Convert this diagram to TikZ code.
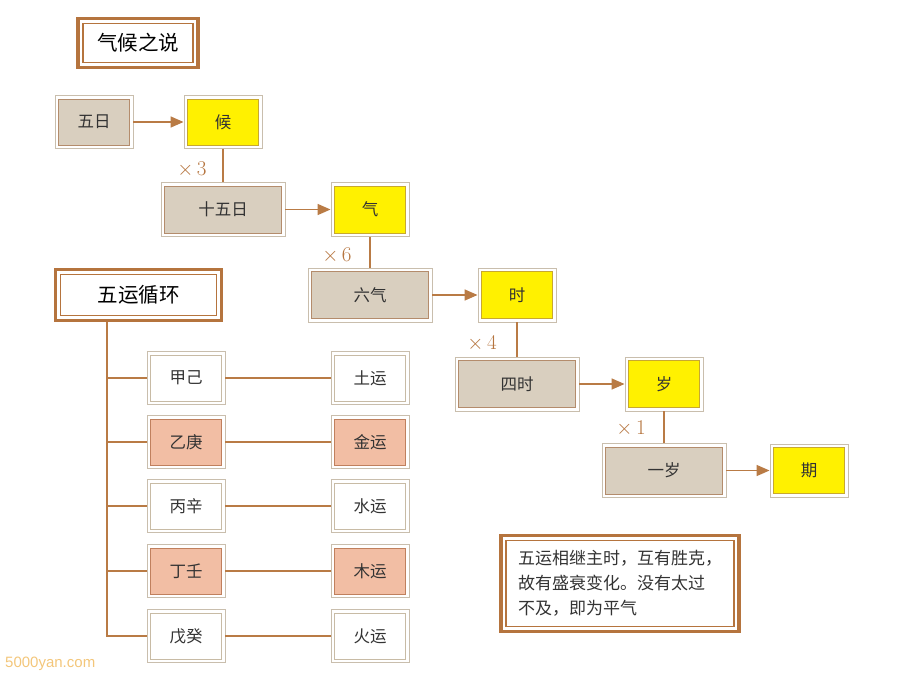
\documentclass[tikz,border=0pt]{standalone}
\usepackage{fontspec}
\newfontfamily\cjk{Noto Sans CJK SC}
\newfontfamily\wmfont{Liberation Sans}
\usetikzlibrary{arrows.meta}
\definecolor{tanfill}{HTML}{D9CFBF}
\definecolor{yelfill}{HTML}{FFF100}
\definecolor{salfill}{HTML}{F2BEA4}
\definecolor{brown}{HTML}{B5743E}
\definecolor{linebrown}{HTML}{B97B45}
\definecolor{outerline}{HTML}{C9BEAD}
\definecolor{intan}{HTML}{B48C6C}
\definecolor{inyel}{HTML}{C8A830}
\definecolor{inwhite}{HTML}{C8BBA5}
\definecolor{insal}{HTML}{C0805E}
\definecolor{txt}{HTML}{333333}
\definecolor{wmcol}{HTML}{F3C67A}
\tikzset{
  boxbase/.style 2 args={draw=outerline, line width=0.9pt, fill=white, inner sep=0pt,
    text=txt, font=\cjk\fontsize{16.5}{16.5}\selectfont,
    path picture={\draw[#1, fill=#2, line width=0.9pt]
      ([shift={(3.5pt,-3.5pt)}]path picture bounding box.north west) rectangle
      ([shift={(-3.5pt,3.5pt)}]path picture bounding box.south east);}},
  graybox/.style={boxbase={intan}{tanfill}},
  yelbox/.style={boxbase={inyel}{yelfill}},
  whitebox/.style={boxbase={inwhite}{white}},
  salbox/.style={boxbase={insal}{salfill}},
  narrow/.style={minimum width=78pt, minimum height=53pt},
  wide/.style={minimum width=124pt, minimum height=54pt},
  titlebox/.style={draw=brown, line width=3.5pt, fill=white, inner sep=0pt,
    text=black, font=\cjk\fontsize{20.5}{20.5}\selectfont,
    path picture={\draw[brown, line width=1.3pt]
      ([shift={(5pt,-5pt)}]path picture bounding box.north west) rectangle
      ([shift={(-5pt,5pt)}]path picture bounding box.south east);}},
  arr/.style={draw=linebrown, line width=1.5pt, -{Triangle[length=13pt,width=11pt]}},
  conn/.style={draw=linebrown, line width=1.6pt},
  mult/.style={text=brown, font=\fontsize{21}{21}\selectfont},
}
\begin{document}
\begin{tikzpicture}[x=1pt, y=-1pt]
\useasboundingbox (0,0) rectangle (900,681);
% title 1
\node[titlebox, minimum width=120pt, minimum height=49pt] (t1) at (138,43) {气候之说};
% chain
\node[graybox, narrow] (wuri) at (94,122) {五日};
\node[yelbox, narrow] (hou) at (223,122) {候};
\node[graybox, wide] (shiwuri) at (223,209.5) {十五日};
\node[yelbox, narrow, minimum height=54pt] (qi) at (370,209.5) {气};
\node[graybox, wide] (liuqi) at (370,295) {六气};
\node[yelbox, narrow, minimum height=54pt] (shi) at (517,295) {时};
\node[graybox, wide] (sishi) at (517,384) {四时};
\node[yelbox, narrow, minimum height=54pt] (sui) at (664,384) {岁};
\node[graybox, wide] (yisui) at (664,470.5) {一岁};
\node[yelbox, narrow] (qi2) at (809,470.5) {期};
\draw[arr] (wuri) -- (hou);
\draw[arr] (shiwuri) -- (qi);
\draw[arr] (liuqi) -- (shi);
\draw[arr] (sishi) -- (sui);
\draw[arr] (yisui) -- (qi2);
\draw[conn] (hou.south) -- (shiwuri.north);
\draw[conn] (qi.south) -- (liuqi.north);
\draw[conn] (shi.south) -- (sishi.north);
\draw[conn] (sui.south) -- (yisui.north);
\node[mult] (m3) at (192,169) {$\times$\,3};
\node[mult] (m6) at (337,255) {$\times$\,6};
\node[mult] (m4) at (482,343) {$\times$\,4};
\node[mult] (m1) at (631,428) {$\times$\,1};
% five cycles
\node[titlebox, minimum width=166pt, minimum height=51pt] (t2) at (138.5,295) {五运循环};
\node[whitebox, narrow] (jiaji) at (186,378) {甲己};
\node[whitebox, narrow] (tuyun) at (370,378) {土运};
\node[salbox, narrow] (yigeng) at (186,442) {乙庚};
\node[salbox, narrow] (jinyun) at (370,442) {金运};
\node[whitebox, narrow] (bingxin) at (186,506) {丙辛};
\node[whitebox, narrow] (shuiyun) at (370,506) {水运};
\node[salbox, narrow] (dingren) at (186,571) {丁壬};
\node[salbox, narrow] (muyun) at (370,571) {木运};
\node[whitebox, narrow] (wugui) at (186,636) {戊癸};
\node[whitebox, narrow] (huoyun) at (370,636) {火运};
\coordinate (trunk) at (107,636);
\draw[conn] (t2.south -| trunk) -- (trunk) -- (wugui.west);
\foreach \a/\b in {jiaji/tuyun, yigeng/jinyun, bingxin/shuiyun, dingren/muyun} {
  \draw[conn] (\a.west -| trunk) -- (\a.west);
  \draw[conn] (\a.east) -- (\b.west);
}
\draw[conn] (wugui.east) -- (huoyun.west);
% note
\node[titlebox, minimum width=238pt, minimum height=96pt, text=txt,
  font=\cjk\fontsize{17}{25}\selectfont, align=left] (note) at (620,583.5)
  {五运相继主时，互有胜克，\\故有盛衰变化。没有太过\\不及，即为平气\hspace*{68pt}};
% watermark
\node[anchor=west, text=wmcol, font=\wmfont\fontsize{15}{15}\selectfont, inner sep=0pt] (wm) at (5,664) {5000yan.com};
\end{tikzpicture}
\end{document}
